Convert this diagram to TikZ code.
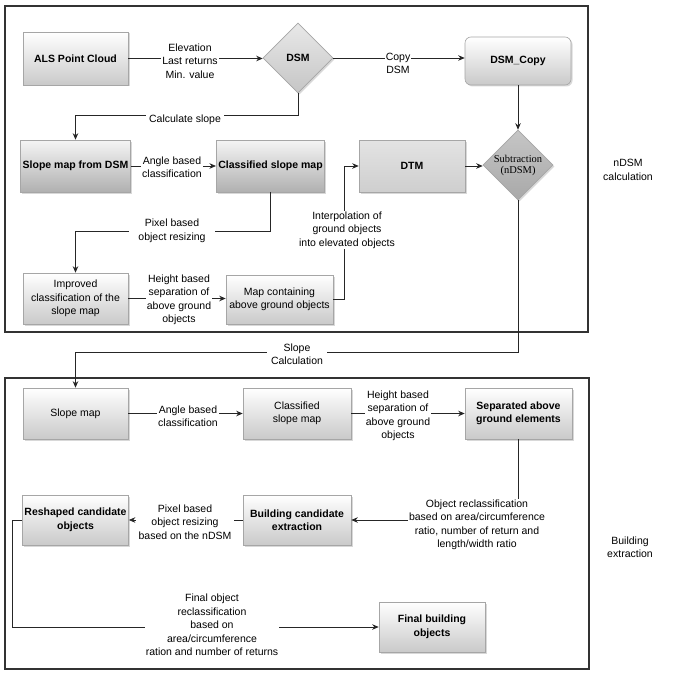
\documentclass[tikz,border=0pt]{standalone}
\usepackage{fontspec}
\setmainfont{Liberation Sans}
\newfontfamily\serifft{Liberation Serif}
\usetikzlibrary{shapes.geometric,shadows,arrows.meta}
\begin{document}
\begin{tikzpicture}[x=1pt,y=-1pt,
  font=\fontsize{10.5}{13.5}\selectfont,
  base/.style={draw=gray!70, line width=.6pt, align=center, inner sep=2pt,
    drop shadow={opacity=.3,shadow xshift=1.5pt,shadow yshift=-1.5pt}},
  box/.style={base, rectangle, top color=white, bottom color=gray!42},
  darkbox/.style={base, rectangle, top color=gray!8, bottom color=gray!62},
  dtmbox/.style={base, rectangle, top color=gray!22, middle color=white, bottom color=gray!38},
  dia/.style={base, diamond, aspect=1, inner sep=0pt, minimum width=70pt, minimum height=70pt},
  bx/.style={font=\fontsize{10.5}{13.5}\selectfont\bfseries},
  arr/.style={draw=black!85, line width=.8pt, -{Stealth[length=6.5pt,width=5.5pt]}},
  ln/.style={draw=black!85, line width=.8pt},
  lbl/.style={fill=white, align=center, inner sep=1pt},
  frame/.style={draw=black!80, line width=1.2pt},
  side/.style={align=center}
]
\useasboundingbox (0,0) rectangle (675,682);
\fill[white] (0,0) rectangle (675,682);

% frames
\draw[frame] (5,6) rectangle (588,332);
\draw[frame] (5,378) rectangle (589,669);
\node[side] (t1) at (628,170) {nDSM\\calculation};
\node[side] (t2) at (630,547) {Building\\extraction};

% top section nodes
\node[box, bx, minimum width=105pt, minimum height=53pt] (als) at (75.5,58.5) {ALS Point Cloud};
\node[dia, bx, top color=gray!18, bottom color=gray!45] (dsm) at (298,58) {DSM};
\node[box, bx, rounded corners=6pt, minimum width=106pt, minimum height=48pt] (dsmc) at (518,61) {DSM\_Copy};
\node[dia, top color=gray!45, bottom color=gray!68, font=\fontsize{10.5}{11}\serifft] (sub) at (518,165) {Subtraction\\(nDSM)};
\node[dtmbox, bx, minimum width=106pt, minimum height=52pt] (dtm) at (412,166) {DTM};
\node[darkbox, bx, minimum width=105pt, minimum height=52pt] (sm1) at (75.5,166) {Slope map from DSM};
\node[darkbox, bx, minimum width=107pt, minimum height=52pt] (csm1) at (270.5,166) {Classified slope map};
\node[box, minimum width=105pt, minimum height=51pt] (imp) at (75.5,298.5) {Improved\\classification of the\\slope map};
\node[box, minimum width=107pt, minimum height=49pt] (mc) at (279.5,299.5) {Map containing\\above ground objects};

% bottom section nodes
\node[box, minimum width=105pt, minimum height=51pt] (sm2) at (75.5,413.5) {Slope map};
\node[box, minimum width=108pt, minimum height=51pt] (csm2) at (297,413.5) {Classified\\slope map};
\node[box, bx, minimum width=107pt, minimum height=51pt] (sep) at (518.5,413.5) {Separated above\\ground elements};
\node[box, bx, minimum width=108pt, minimum height=50pt] (bc) at (297,520) {Building candidate\\extraction};
\node[box, bx, minimum width=105pt, minimum height=50pt] (rc) at (75.5,520) {Reshaped candidate\\objects};
\node[box, bx, minimum width=106pt, minimum height=50pt] (fb) at (432,627) {Final building\\objects};

% connectors top
\draw[arr] (als.east) -- (als.east -| dsm.west);
\draw[arr] (dsm.east) -- (dsm.east -| dsmc.west);
\draw[arr] (dsmc.south) -- (sub.north);
\draw[arr] (dtm.east) -- (dtm.east -| sub.west);
\draw[arr] (dsm.south) -- ++(0,22) -| (sm1.north);
\draw[arr] (sm1.east) -- (csm1.west);
\draw[arr] (csm1.south) -- ++(0,39) -| (imp.north);
\draw[arr] (imp.east) -- (imp.east -| mc.west);
\draw[arr] (mc.east) -- ++(11,0) |- (dtm.west);
\draw[arr] (sub.south) -- ++(0,152) -| (sm2.north);

% connectors bottom
\draw[arr] (sm2.east) -- (csm2.west);
\draw[arr] (csm2.east) -- (sep.west);
\draw[arr] (sep.south) |- (bc.east);
\draw[arr] (bc.west) -- (rc.east);
\draw[arr] (rc.west) -- ++(-10,0) |- (fb.west);

% labels
\node[lbl] (l1) at (190,61) {Elevation\\Last returns\\Min. value};
\node[lbl] (l2) at (398,63.5) {Copy\\DSM};
\node[lbl, inner xsep=3pt] (l3) at (185,120) {Calculate slope};
\node[lbl] (l4) at (172,167) {Angle based\\classification};
\node[lbl, inner xsep=9pt] (l5) at (172,231) {Pixel based\\object resizing};
\node[lbl] (l6) at (179,300) {Height based\\separation of\\above ground\\objects};
\node[lbl] (l7) at (347,230) {Interpolation of\\ground objects\\into elevated objects};
\node[lbl, inner xsep=4pt] (l8) at (297,354) {Slope\\Calculation};
\node[lbl] (l9) at (188,416) {Angle based\\classification};
\node[lbl] (l10) at (398,416) {Height based\\separation of\\above ground\\objects};
\node[lbl] (l11) at (477,525) {Object reclassification\\based on area/circumference\\ratio, number of return and\\length/width ratio};
\node[lbl, inner xsep=3pt] (l12) at (185,522) {Pixel based\\object resizing\\based on the nDSM};
\node[lbl] (l13) at (212,625) {Final object\\reclassification\\based on\\area/circumference\\ration and number of returns};
\end{tikzpicture}
\end{document}
